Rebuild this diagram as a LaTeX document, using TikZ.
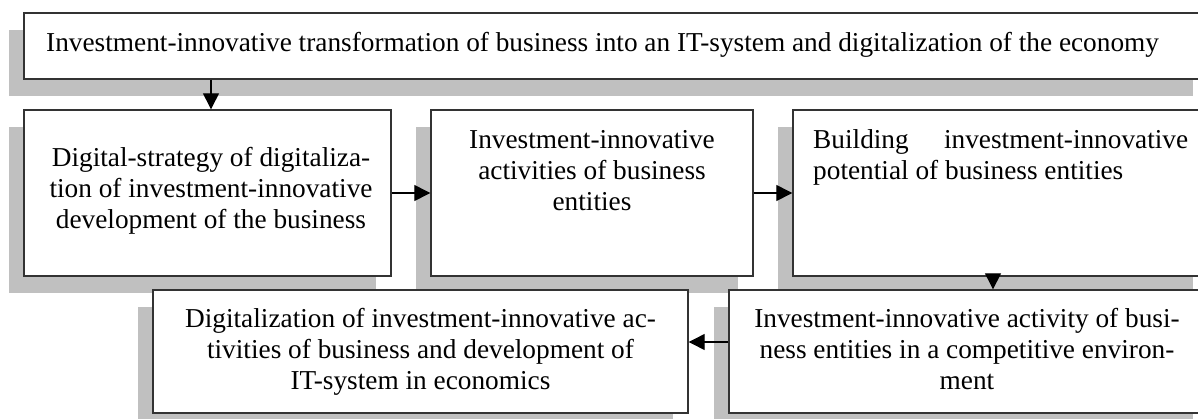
\documentclass[tikz,border=0pt]{standalone}
\usepackage{fontspec}
\setmainfont{Liberation Serif}
\usetikzlibrary{arrows.meta,shadows}
\definecolor{shgray}{HTML}{C0C0C0}
\definecolor{edge}{HTML}{333333}
\begin{document}
\begin{tikzpicture}[x=1pt,y=-1pt,
  box/.style={draw=edge, line width=1.4pt, fill=white, inner sep=0pt,
    general shadow={fill=shgray, shadow xshift=-15pt, shadow yshift=-17pt}},
  txt/.style={inner sep=0pt, font=\fontsize{27.3}{31}\selectfont},
  arr/.style={line width=1.3pt, -{Triangle[length=16pt,width=16pt]}}]
\useasboundingbox (0,0) rectangle (1198,418);
% boxes
\node[box, minimum width=1184pt, minimum height=66pt] (top) at (616,46) {};
\node[box, minimum width=367pt, minimum height=166pt] (b1) at (207.5,193) {};
\node[box, minimum width=322pt, minimum height=166pt] (b2) at (592,193) {};
\node[box, minimum width=415pt, minimum height=166pt] (b3) at (1000.5,193) {};
\node[box, minimum width=535pt, minimum height=123pt] (b4) at (420.5,351.5) {};
\node[box, minimum width=479pt, minimum height=123pt] (b5) at (968.5,351.5) {};
% texts (base anchor = baseline of last line)
\node[txt, anchor=base west] (ttop) at (46,51) {Investment-innovative transformation of business into an IT-system and digitalization of the economy};
\node[txt, anchor=base, align=center] (t1) at (211,228) {Digital-strategy of digitaliza-\\tion of investment-innovative\\development of the business};
\node[txt, anchor=base, align=center] (t2) at (592,210) {Investment-innovative\\activities of business\\entities};
\node[txt, anchor=base west, align=left] (t3) at (813,179) {\makebox[375pt][s]{Building\hfill investment-innovative}\\potential of business entities};
\node[txt, anchor=base, align=center] (t4) at (420.5,389) {Digitalization of investment-innovative ac-\\tivities of business and development of\\IT-system in economics};
\node[txt, anchor=base, align=center] (t5) at (967,389) {Investment-innovative activity of busi-\\ness entities in a competitive environ-\\ment};
% connectors
\draw[arr] ([xshift=3.5pt]b1.north |- top.south) -- ([xshift=3.5pt]b1.north);
\draw[arr] (b1.east) -- (b2.west);
\draw[arr] (b2.east) -- (b3.west);
\draw[arr] ([xshift=-7.5pt]b3.south) -- ([xshift=-7.5pt]b3.south |- b5.north);
\draw[arr] ([yshift=9.5pt]b5.west) -- ([yshift=9.5pt]b4.east);
\end{tikzpicture}
\end{document}
